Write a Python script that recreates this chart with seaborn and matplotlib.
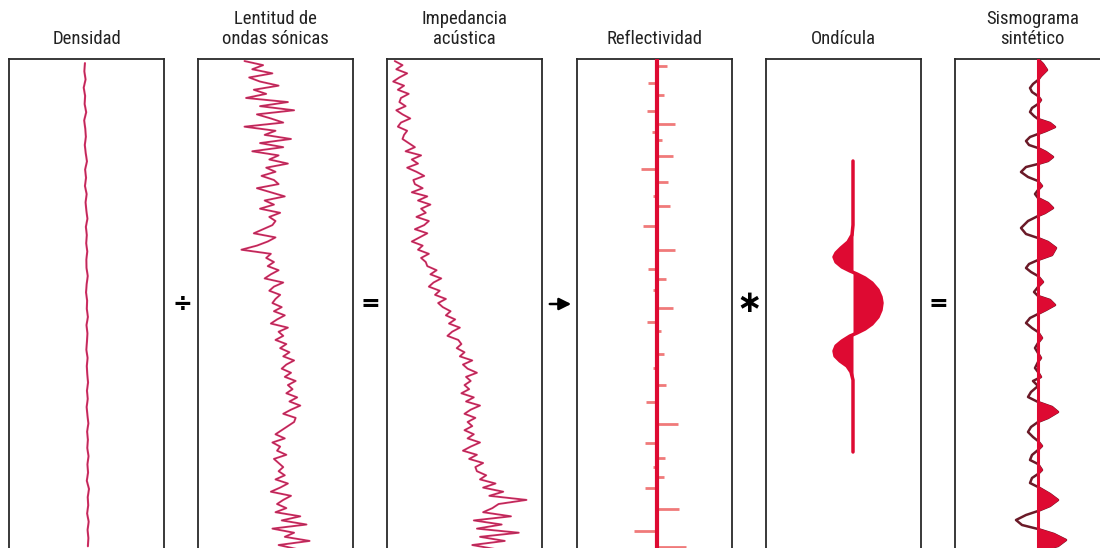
import numpy as np
import pandas as pd
import matplotlib
matplotlib.use("Agg")
import matplotlib.pyplot as plt
from matplotlib.patches import FancyArrowPatch
import seaborn as sns

sns.set_theme(style="white")
plt.rcParams['font.family'] = ['Roboto Condensed', 'Liberation Sans Narrow', 'DejaVu Sans']

# ---------------- data ----------------
titles = ["Densidad", "Lentitud de\nondas sónicas", "Impedancia\nacústica",
          "Reflectividad", "Ondícula", "Sismograma\nsintético"]
operators = ["÷", "=", "", "∗", "="]

# well logs (percent of panel width), top to bottom
density = [49.0, 48.6, 49.4, 48.2, 49.1, 48.8, 49.8, 48.5, 49.2, 49.6,
           48.9, 49.5, 50.3, 49.1, 49.7, 49.0, 50.1, 49.4, 49.9, 50.6,
           49.6, 50.2, 49.8, 50.5, 49.9, 50.0, 50.8, 50.1, 49.7, 50.4,
           50.2, 50.9, 50.0, 50.6, 50.3, 49.9, 50.7, 50.2, 50.5, 51.0,
           50.3, 50.8, 50.1, 50.6, 51.2, 50.4, 50.9, 50.5, 51.3, 50.6,
           51.0, 50.2, 51.6, 50.8, 51.1, 50.4, 51.4, 50.7, 51.2, 50.9]

slowness = [30, 42, 35, 48, 33, 40, 52, 36, 44, 31,
            58, 40, 62, 38, 47, 55, 30, 50, 43, 60,
            40, 55, 35, 52, 46, 58, 44, 50, 41, 49,
            52, 38, 47, 56, 43, 49, 40, 53, 46, 50,
            48, 42, 36, 50, 45, 38, 28, 47, 44, 49,
            45, 52, 47, 43, 55, 49, 46, 53, 50, 48,
            54, 49, 56, 51, 47, 58, 52, 55, 50, 57,
            53, 59, 55, 62, 57, 54, 60, 56, 63, 58,
            61, 57, 64, 59, 66, 60, 55, 63, 62, 58,
            54, 50, 56, 48, 53, 51, 57, 49, 52, 55,
            52, 56, 50, 58, 53, 47, 60, 55, 51, 57,
            50, 66, 54, 70, 48, 62, 56, 72, 52, 64]

impedance = [5, 10, 6, 13, 8, 4, 11, 7, 14, 9,
             8, 12, 6, 10, 15, 9, 7, 13, 11, 10,
             14, 18, 12, 22, 16, 20, 13, 19, 24, 17,
             18, 23, 16, 26, 20, 28, 22, 25, 19, 27,
             24, 18, 26, 21, 16, 23, 20, 27, 22, 25,
             26, 32, 28, 35, 30, 27, 34, 31, 38, 33,
             36, 41, 38, 44, 40, 47, 42, 39, 46, 48,
             45, 50, 47, 55, 49, 52, 58, 51, 54, 50,
             53, 48, 56, 51, 60, 54, 50, 57, 52, 55,
             50, 56, 52, 60, 54, 49, 58, 53, 62, 57,
             58, 64, 60, 70, 62, 75, 66, 90, 72, 68,
             62, 80, 56, 74, 58, 85, 60, 76, 55, 70]

# reflectivity series (time in ms, coefficient)
refl_time = [7, 24, 36, 52, 65, 73, 81, 97, 110, 123, 137, 147, 167, 191, 210,
             220, 231, 249, 263, 272, 295, 309, 326, 343, 365, 384, 399, 408,
             418, 429, 450, 472, 488]
refl_coef = [0.10, -0.08, 0.07, -0.09, 0.18, -0.04, 0.05, 0.16, -0.15, 0.11,
             -0.03, 0.13, -0.13, 0.18, -0.08, 0.09, -0.03, 0.16, -0.09, 0.04,
             0.07, -0.03, 0.09, -0.10, 0.21, -0.11, 0.08, -0.03, 0.07, -0.11,
             0.22, -0.22, 0.29]

# wavelet
wavelet_time = [102, 166, 176, 183, 189, 194, 198, 203, 208, 212, 215, 219, 224,
                231, 238, 244, 251, 258, 265, 270, 274, 277, 282, 287, 292, 297,
                302, 307, 313, 321, 393]
wavelet_amp = [0, 0, -0.01, -0.05, -0.12, -0.17, -0.19, -0.17, -0.11, -0.03,
               0.04, 0.12, 0.19, 0.25, 0.28, 0.29, 0.28, 0.25, 0.19, 0.12, 0.04,
               -0.03, -0.11, -0.17, -0.19, -0.18, -0.13, -0.06, -0.02, 0, 0]

# synthetic seismogram
seis_time = [0, 5, 11, 17, 21, 25, 29, 33, 37, 41, 45, 49, 53, 57, 60, 64, 68, 72,
             75, 78, 82, 86, 89, 93, 98, 102, 105, 108, 113, 118, 122, 127, 131,
             135, 139, 144, 149, 154, 157, 162, 169, 175, 179, 183, 189, 196, 201,
             205, 209, 213, 217, 223, 228, 233, 237, 241, 246, 251, 255, 259, 264,
             269, 273, 279, 284, 289, 294, 299, 303, 309, 313, 318, 322, 327, 333,
             338, 343, 348, 353, 359, 363, 368, 373, 378, 382, 387, 391, 396, 401,
             405, 411, 415, 419, 424, 428, 435, 441, 447, 452, 456, 461, 466, 470,
             475, 481, 487, 491]
seis_amp = [0, 0.05, 0.09, 0.03, 0, -0.05, -0.08, -0.06, 0, 0.03, 0, -0.06, -0.08,
            -0.04, 0, 0.12, 0.17, 0.08, 0, -0.08, -0.12, -0.09, 0, 0.08, 0.15, 0.10,
            0, -0.12, -0.17, -0.10, 0, 0.04, 0, -0.03, 0, 0.10, 0.15, 0.07, 0,
            -0.10, -0.17, -0.12, 0, 0.10, 0.18, 0.14, 0, -0.09, -0.12, -0.07, 0,
            0.05, 0, -0.04, 0, 0.12, 0.17, 0.08, 0, -0.08, -0.12, -0.06, 0, 0.04,
            0, -0.03, 0, 0.03, 0, -0.03, 0, 0.03, -0.05, 0, -0.07, -0.10, 0, 0.14,
            0.20, 0.10, 0, -0.07, -0.10, -0.05, 0, 0.04, 0, -0.06, -0.08, 0, 0.04,
            0, -0.06, -0.08, 0, 0.12, 0.20, 0.12, 0, -0.12, -0.22, -0.16, 0, 0.16,
            0.28, 0.20, 0.05]

# ---------------- figure ----------------
W, H = 1100, 548
fig = plt.figure(figsize=(W / 100, H / 100), dpi=100)
lefts = [9, 198, 387, 577, 766, 955]
centers_op = [(182, 304), (370, 304), (560, 304), (749, 304), (938, 304)]
red = "#de0a32"
pink = "#e2306a"

axes = []
for L, title in zip(lefts, titles):
    ax = fig.add_axes([L / W, -4 / H, 155 / W, 493 / H])
    ax.set_xticks([])
    ax.set_yticks([])
    for s in ["left", "right", "top"]:
        ax.spines[s].set_color("#2a2a2a")
        ax.spines[s].set_linewidth(1.3)
        ax.spines[s].set_visible(True)
    ax.spines["bottom"].set_visible(False)
    ax.set_title(title, pad=11, fontsize=13.5, color="#222222", linespacing=1.1,
                 fontweight="normal")
    axes.append(ax)


def draw_log(ax, values, lw=1.4):
    df = pd.DataFrame({"val": values, "depth": np.arange(len(values))})
    sns.lineplot(data=df, x="val", y="depth", orient="y", sort=False, estimator=None,
                 color=pink, lw=lw, ax=ax)
    sns.lineplot(data=df, x="val", y="depth", orient="y", sort=False, estimator=None,
                 color="#5a2a3c", lw=0.4, alpha=0.6, ax=ax)
    ax.set_xlim(0, 100)
    ax.set_ylim(len(values) - 0.3, -0.5)


draw_log(axes[0], density, lw=1.5)
draw_log(axes[1], slowness)
draw_log(axes[2], impedance)

# reflectivity
ax = axes[3]
ax.axvline(0, color=red, lw=3, zorder=3)
ax.hlines(refl_time, 0, refl_coef, color="#f07a7a", lw=2, zorder=2)
ax.set_xlim(-0.79, 0.75)
ax.set_ylim(493, 0)

# wavelet
ax = axes[4]
sns.lineplot(x=wavelet_amp, y=wavelet_time, orient="y", sort=False, estimator=None,
             color=red, lw=2.5, ax=ax)
ax.fill_betweenx(wavelet_time, 0, wavelet_amp, color=red, lw=0)
ax.set_xlim(-0.87, 0.68)
ax.set_ylim(493, 0)

# synthetic seismogram
ax = axes[5]
sa = np.array(seis_amp)
sns.lineplot(x=seis_amp, y=seis_time, orient="y", sort=False, estimator=None,
             color="#6b1a28", lw=1.8, ax=ax, zorder=2)
ax.fill_betweenx(seis_time, 0, seis_amp, where=sa >= 0, interpolate=True,
                 facecolor=red, edgecolor=red, lw=1.2, zorder=3)
ax.axvline(0, color=red, lw=2.2, zorder=4)
ax.set_xlim(-0.83, 0.72)
ax.set_ylim(493, 0)

for a in axes:
    a.set_xticks([])
    a.set_yticks([])
    a.set_xlabel("")
    a.set_ylabel("")

# operators
for (x, y), sym in zip(centers_op, operators):
    if sym:
        fs = 22 if sym == "∗" else 17
        fig.text(x / W, 1 - y / H, sym, ha="center", va="center", fontsize=fs,
                 fontweight="bold", color="black", family="DejaVu Sans")
arrow = FancyArrowPatch((547 / W, 1 - 304 / H), (574 / W, 1 - 304 / H),
                        transform=fig.transFigure, arrowstyle="-|>",
                        mutation_scale=18, lw=1.8, color="black")
fig.add_artist(arrow)

fig.savefig("out.png", dpi=100, facecolor="white")
